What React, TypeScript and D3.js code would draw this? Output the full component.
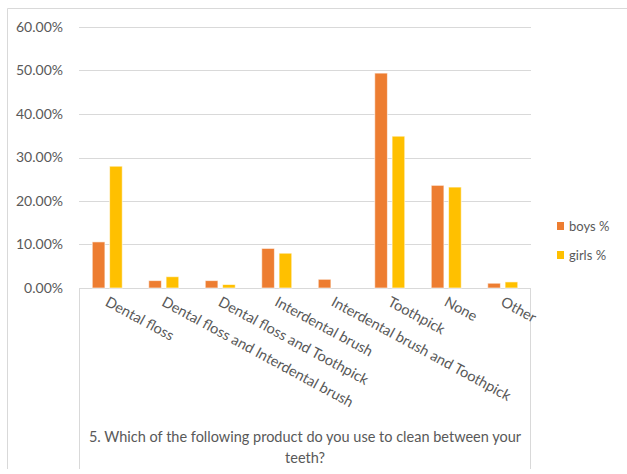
import React from "react";
import * as d3 from "d3";

const categories = [
  "Dental floss",
  "Dental floss and Interdental brush",
  "Dental floss and Toothpick",
  "Interdental brush",
  "Interdental brush and Toothpick",
  "Toothpick",
  "None",
  "Other",
];
const seriesNames = ["boys %", "girls %"];
const boys = [0.106, 0.017, 0.017, 0.091, 0.02, 0.494, 0.236, 0.011];
const girls = [0.28, 0.026, 0.008, 0.08, 0, 0.349, 0.232, 0.014];
const yTicks = [0, 0.1, 0.2, 0.3, 0.4, 0.5, 0.6];
const colors = ["#ED7D31", "#FFC000"];
const titleLines = [
  "5. Which of the following product do you use to clean between your",
  "teeth?",
];

const W = 627;
const H = 474;
const FONT = "Lato, 'Open Sans', sans-serif";
const TXT = "#595959";

export default function App() {
  const left = 79;
  const right = 531;
  const top = 27;
  const bottom = 288;
  const x0 = d3.scaleBand<string>().domain(categories).range([left, right]).padding(0);
  const bw = x0.bandwidth();
  const x1 = d3
    .scaleBand<string>()
    .domain(seriesNames)
    .range([bw / 2 - 15, bw / 2 + 15])
    .paddingInner(0.27)
    .paddingOuter(0);
  const y = d3.scaleLinear().domain([0, 0.6]).range([bottom, top]);
  const fmt = d3.format(".2%");
  const data = [boys, girls];

  return (
    <svg width={W} height={H} style={{ position: "absolute", left: 0, top: 0, background: "#fff" }}>
      <rect x={0} y={0} width={W} height={H} fill="#fff" />
      {/* outer border */}
      <line x1={7.5} y1={8.5} x2={W} y2={8.5} stroke="#d9d9d9" strokeWidth={1} />
      <line x1={7.5} y1={8.5} x2={7.5} y2={469} stroke="#d9d9d9" strokeWidth={1} />
      {/* gridlines */}
      {yTicks.map((t) => (
        <line
          key={t}
          x1={left}
          x2={right}
          y1={Math.round(y(t)) + 0.5}
          y2={Math.round(y(t)) + 0.5}
          stroke="#d9d9d9"
          strokeWidth={1}
        />
      ))}
      {/* inner box */}
      <line x1={left + 0.5} y1={bottom} x2={left + 0.5} y2={469} stroke="#d9d9d9" />
      <line x1={right - 0.5} y1={bottom} x2={right - 0.5} y2={469} stroke="#d9d9d9" />
      {/* y labels */}
      {yTicks.map((t) => (
        <text
          key={t}
          x={63}
          y={y(t)}
          dy="0.35em"
          textAnchor="end"
          fontFamily={FONT}
          fontSize={14}
          fill={TXT}
        >
          {fmt(t)}
        </text>
      ))}
      {/* bars */}
      {categories.map((c, i) => (
        <g key={c} transform={`translate(${x0(c)},0)`}>
          {seriesNames.map((s, j) => {
            const v = data[j][i];
            if (v <= 0) return null;
            return (
              <rect
                key={s}
                x={x1(s)}
                y={y(v)}
                width={x1.bandwidth()}
                height={bottom - y(v)}
                fill={colors[j]}
                stroke="#fff"
                strokeOpacity={0.6}
                strokeWidth={1}
              />
            );
          })}
        </g>
      ))}
      {/* x labels */}
      {categories.map((c) => {
        const cx = (x0(c) as number) + bw / 2 - 3;
        return (
          <text
            key={c}
            transform={`translate(${cx},${bottom + 17}) rotate(28.5)`}
            fontFamily={FONT}
            fontSize={14.5}
            fill={TXT}
            textAnchor="start"
          >
            {c}
          </text>
        );
      })}
      {/* title */}
      {titleLines.map((l, i) => (
        <text
          key={i}
          x={305}
          y={442 + i * 21}
          textAnchor="middle"
          fontFamily={FONT}
          fontSize={14.5}
          fill={TXT}
        >
          {l}
        </text>
      ))}
      {/* legend */}
      {seriesNames.map((s, i) => (
        <g key={s} transform={`translate(557,${222 + i * 29})`}>
          <rect x={0} y={0} width={7} height={8} fill={colors[i]} />
          <text x={12} y={4} dy="0.35em" fontFamily={FONT} fontSize={13} fill={TXT}>
            {s}
          </text>
        </g>
      ))}
    </svg>
  );
}
